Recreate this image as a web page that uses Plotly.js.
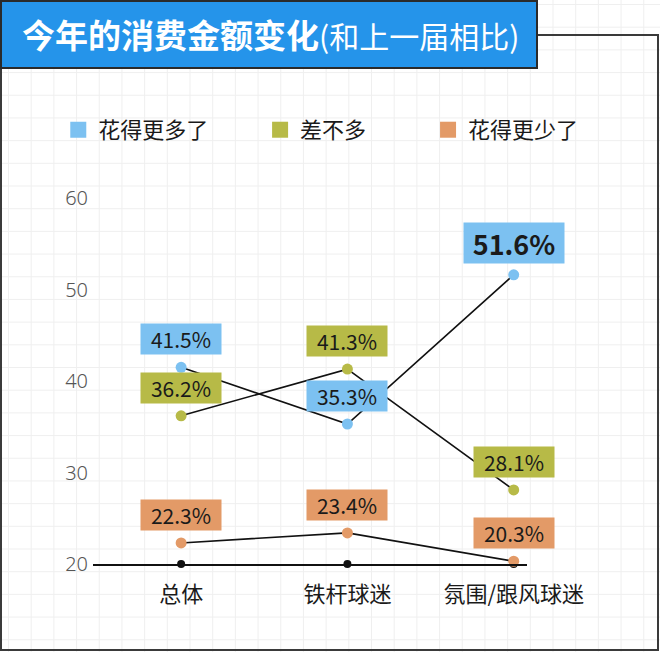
<!DOCTYPE html>
<html>
<head>
<meta charset="utf-8">
<script src="https://cdn.plot.ly/plotly-3.0.1.min.js"></script>
<style>
  html, body { margin: 0; padding: 0; }
  body {
    width: 660px; height: 652px; position: relative; overflow: hidden;
    background-color: #fff;
    background-image:
      linear-gradient(to right, #efefef 1px, transparent 1px),
      linear-gradient(to bottom, #efefef 1px, transparent 1px);
    background-size: 22.7px 22.7px;
    background-position: 8px 4px;
    font-family: "Noto Sans CJK SC", sans-serif;
  }
  #frame {
    position: absolute; left: 0; top: 34px; width: 655px; height: 613px;
    border: 2px solid #3a3a3a;
  }
  #title {
    position: absolute; left: 0; top: 0;
    width: 538px; height: 69px; box-sizing: border-box;
    background: #2594ea; border: 2px solid #2a2a2a;
    color: #fff; line-height: 64px; padding-left: 20px; white-space: nowrap;
  }
  #title .main { font-size: 33px; font-weight: bold; }
  #title .sub { font-size: 30px; }
  #chart { position: absolute; left: 0; top: 0; width: 660px; height: 652px; }
</style>
</head>
<body>
<div id="frame"></div>
<div id="chart"></div>
<div id="title"><span class="main">今年的消费金额变化</span><span class="sub">(和上一届相比)</span></div>
<script>
// data
var categories = ['总体', '铁杆球迷', '氛围/跟风球迷'];
var seriesNames = ['花得更多了', '差不多', '花得更少了'];
var moreValues = [41.5, 35.3, 51.6];
var sameValues = [36.2, 41.3, 28.1];
var lessValues = [22.3, 23.4, 20.3];
var yTicks = [20, 30, 40, 50, 60];

var colors = ['#7cc1f1', '#b7ba47', '#e39a67'];
var allSeries = [moreValues, sameValues, lessValues];
var maxValue = Math.max.apply(null, moreValues.concat(sameValues, lessValues));

var data = [];
var annotations = [];

// black connecting lines
allSeries.forEach(function (vals) {
  data.push({
    type: 'scatter', x: categories, y: vals, mode: 'lines',
    line: { color: '#111', width: 1.6 },
    showlegend: false, hoverinfo: 'skip', cliponaxis: false
  });
});

// axis dots on baseline
data.push({
  type: 'scatter', x: categories, y: categories.map(function () { return yTicks[0]; }),
  mode: 'markers', marker: { color: '#111', size: 8 },
  showlegend: false, hoverinfo: 'skip', cliponaxis: false
});

// colored points
allSeries.forEach(function (vals, i) {
  data.push({
    type: 'scatter', x: categories, y: vals, mode: 'markers',
    marker: { color: colors[i], size: 11 },
    showlegend: false, hoverinfo: 'skip', cliponaxis: false
  });
});

// legend-only entries, one legend each so they can be placed freely
var legendIds = ['legend', 'legend2', 'legend3'];
seriesNames.forEach(function (name, i) {
  data.push({
    type: 'scatter', x: [null], y: [null], mode: 'markers', name: name,
    legend: legendIds[i],
    marker: { color: colors[i], size: 16, symbol: 'square' }
  });
});

// value labels
allSeries.forEach(function (vals, i) {
  vals.forEach(function (v, j) {
    var big = v === maxValue;
    annotations.push({
      x: categories[j], y: v, xref: 'x', yref: 'y',
      text: big ? '<b>' + v.toFixed(1) + '%</b>' : v.toFixed(1) + '%',
      showarrow: false, yshift: big ? 32 : 28,
      width: big ? 96 : 76, height: big ? 36 : 26,
      bgcolor: colors[i], borderpad: 2,
      font: { family: 'Noto Sans CJK SC', size: big ? 27 : 21, color: '#1a1a1a' }
    });
  });
});

function legendAt(x) {
  return {
    orientation: 'h', x: x, xanchor: 'left', y: 1.186, yanchor: 'middle',
    font: { family: 'Noto Sans CJK SC', size: 22, color: '#1a1a1a' },
    bgcolor: 'rgba(0,0,0,0)'
  };
}

var layout = {
  width: 660, height: 652,
  margin: { l: 93, r: 133, t: 198, b: 88 },
  paper_bgcolor: 'rgba(0,0,0,0)',
  plot_bgcolor: 'rgba(0,0,0,0)',
  showlegend: true,
  legend: legendAt(-0.08),
  legend2: legendAt(0.385),
  legend3: legendAt(0.772),
  xaxis: {
    type: 'category', range: [-0.53, 2.08],
    showline: true, linecolor: '#111', linewidth: 1.6,
    showgrid: false, zeroline: false, ticks: '',
    ticklabelstandoff: 10,
    tickfont: { family: 'Noto Sans CJK SC', size: 22, color: '#1a1a1a' }
  },
  yaxis: {
    range: [yTicks[0], yTicks[yTicks.length - 1]],
    tickvals: yTicks, ticktext: yTicks.map(String),
    showline: false, showgrid: false, zeroline: false, ticks: '',
    ticklabelstandoff: 4,
    tickfont: { family: 'Noto Sans', size: 20, color: '#555', weight: 300 }
  },
  annotations: annotations
};

Plotly.newPlot('chart', data, layout, { displayModeBar: false, staticPlot: true });
</script>
</body>
</html>
